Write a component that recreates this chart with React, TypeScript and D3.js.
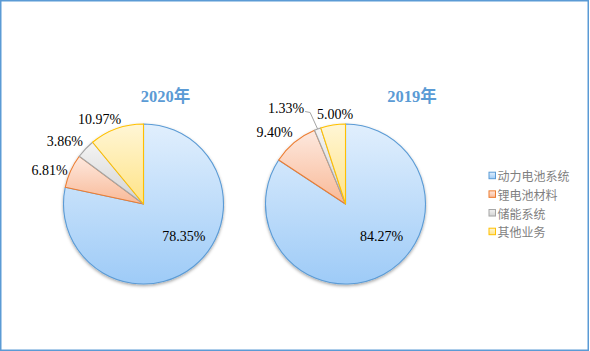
import React from "react";
import * as d3 from "d3";

const categories = ["动力电池系统", "锂电池材料", "储能系统", "其他业务"];
const years = ["2020年", "2019年"];
const values2020 = [78.35, 6.81, 3.86, 10.97];
const values2019 = [84.27, 9.4, 1.33, 5.0];
const labels2020 = ["78.35%", "6.81%", "3.86%", "10.97%"];
const labels2019 = ["84.27%", "9.40%", "1.33%", "5.00%"];

// styling / layout (not data)
const strokeColors = ["#5b9bd5", "#ed7d31", "#a5a5a5", "#ffc000"];
const gradTop = ["#e1effd", "#fde9df", "#f4f4f4", "#fff6d6"];
const gradBottom = ["#9ecbf7", "#f9b997", "#d2d2d2", "#ffe386"];
// label nudges relative to anchor point (inside label: centroid; outside: arc edge point)
const nudges2020: [number, number][] = [[15.3, 1], [-21, -1], [-20.6, -7.8], [-17, -9.7]];
const nudges2019: [number, number][] = [[17.2, -3.2], [-19.7, -9.5], [-31.5, -21], [2, -11]];

const W = 590;
const H = 351;
const R = 80;
const centers: [number, number][] = [[143.5, 204], [345.5, 204]];

function Pie({ cx, cy, values, labels, nudges, title, idx }: any) {
  const pie = d3.pie<number>().sort(null).value((d) => d);
  const arcs = pie(values);
  const arc = d3.arc<d3.PieArcDatum<number>>().innerRadius(0).outerRadius(R);
  const edge = d3.arc<d3.PieArcDatum<number>>().innerRadius(R).outerRadius(R);
  const inner = d3.arc<d3.PieArcDatum<number>>().innerRadius(0).outerRadius(R);
  return (
    <g transform={`translate(${cx},${cy})`}>
      <text
        x={(idx === 0 ? 165.5 : 412) - cx}
        y={96 - cy}
        textAnchor="middle"
        dominantBaseline="central"
        fill="#5b9bd5"
        fontWeight="bold"
        fontSize={16.5}
        fontFamily="'Liberation Serif','Noto Sans CJK SC',serif"
      >
        {title}
      </text>
      <g filter="url(#shadow)">
        {arcs.map((a, i) => (
          <path
            key={i}
            d={arc(a) || ""}
            fill={`url(#grad${i})`}
            stroke={strokeColors[i]}
            strokeWidth={1.1}
            strokeLinejoin="round"
          />
        ))}
      </g>
      {arcs.map((a, i) => {
        const isInside = i === 0;
        const base = isInside ? inner.centroid(a) : edge.centroid(a);
        const x = base[0] + nudges[i][0];
        const y = base[1] + nudges[i][1];
        const leader = idx === 1 && i === 2;
        return (
          <g key={i}>
            {leader && (
              <polyline
                points={`${x + 19},${y + 3.5} ${x + 24},${y + 4.5} ${base[0]},${base[1]}`}
                fill="none"
                stroke="#a5a5a5"
                strokeWidth={1}
              />
            )}
            <text
              x={x}
              y={y}
              textAnchor="middle"
              dominantBaseline="central"
              fontSize={14}
              fill="#000"
              fontFamily="'Liberation Serif','Times New Roman',serif"
            >
              {labels[i]}
            </text>
          </g>
        );
      })}
    </g>
  );
}

export default function App() {
  const legendY = d3.scalePoint<string>().domain(categories).range([175.7, 231.7]);
  return (
    <svg
      width={W}
      height={H}
      style={{ position: "absolute", left: 0, top: 0, background: "#fff" }}
    >
      <defs>
        {categories.map((_, i) => (
          <linearGradient key={i} id={`grad${i}`} x1="0" y1="0" x2="0" y2="1">
            <stop offset="0" stopColor={gradTop[i]} />
            <stop offset="1" stopColor={gradBottom[i]} />
          </linearGradient>
        ))}
        <filter id="shadow" x="-20%" y="-20%" width="140%" height="140%">
          <feDropShadow dx="0" dy="1.5" stdDeviation="1.5" floodColor="#000" floodOpacity="0.35" />
        </filter>
      </defs>
      <rect x={0} y={0} width={W} height={H} fill="#fff" />
      <rect
        x={0.75}
        y={0.75}
        width={587.5}
        height={349.5}
        fill="none"
        stroke="#5b9bd5"
        strokeWidth={1.5}
      />
      <Pie cx={centers[0][0]} cy={centers[0][1]} values={values2020} labels={labels2020} nudges={nudges2020} title={years[0]} idx={0} />
      <Pie cx={centers[1][0]} cy={centers[1][1]} values={values2019} labels={labels2019} nudges={nudges2019} title={years[1]} idx={1} />
      <g>
        {categories.map((c, i) => {
          const y = legendY(c) as number;
          return (
            <g key={c}>
              <rect
                x={489}
                y={y - 3.5}
                width={6.5}
                height={6.5}
                fill={`url(#grad${i})`}
                stroke={strokeColors[i]}
                strokeWidth={1}
              />
              <text
                x={497.5}
                y={y}
                dominantBaseline="central"
                fontSize={12}
                fill="#7f7f7f"
                fontFamily="'Noto Sans CJK SC',sans-serif"
              >
                {c}
              </text>
            </g>
          );
        })}
      </g>
    </svg>
  );
}
